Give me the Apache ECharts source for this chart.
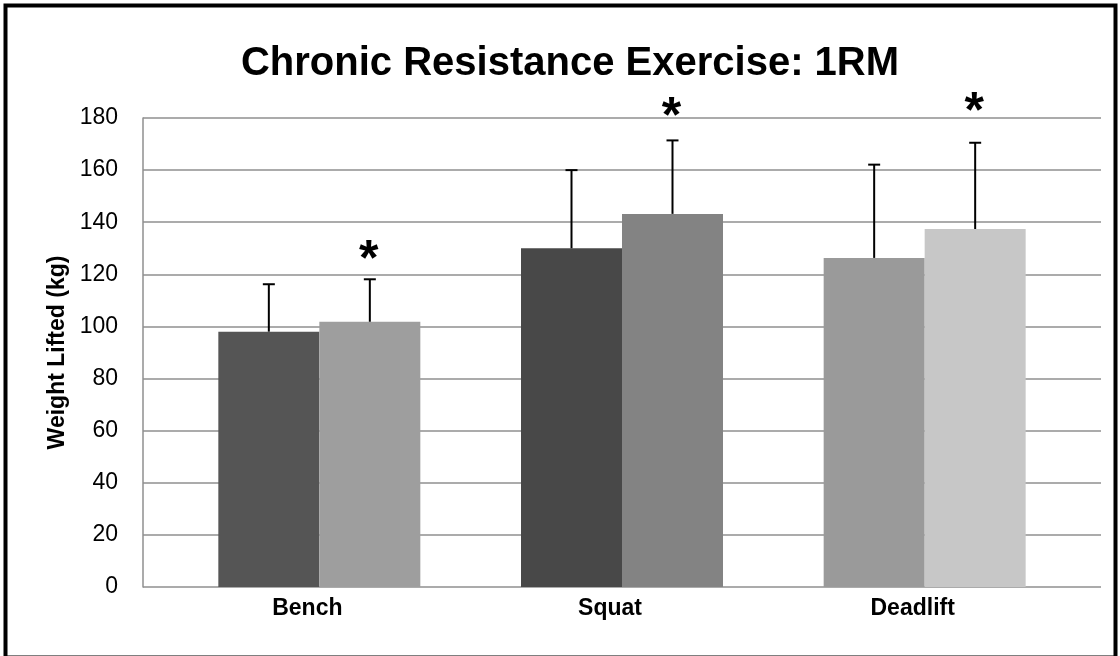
<!DOCTYPE html>
<html>
<head>
<meta charset="utf-8">
<title>Chronic Resistance Exercise: 1RM</title>
<script src="https://cdn.jsdelivr.net/npm/echarts@6/dist/echarts.min.js"></script>
<style>
  html, body { margin: 0; padding: 0; background: #fff; }
  #chart { width: 1120px; height: 656px; }
</style>
</head>
<body>
<div id="chart"></div>
<script>
// data
const categories = ['Bench', 'Squat', 'Deadlift']
const preMeans = [98, 130, 126.3]
const postMeans = [101.8, 143.2, 137.4]
const preSD = [18.2, 30, 35.8]
const postSD = [16.3, 28.2, 33.1]
// level (kg) at which the significance asterisk sits above each post bar
const postStarLevel = [128.7, 183.8, 185.8]
const yMin = 0
const yMax = 180
const yStep = 20

// each group has its own pair of greys
const preColors = ['#555555', '#484848', '#9a9a9a']
const postColors = ['#9e9e9e', '#838383', '#c7c7c7']

const FONT = 'Liberation Sans, Arial, sans-serif'
const BAR_W = 101

const chart = echarts.init(document.getElementById('chart'))

function barData(values, colors) {
  return values.map((v, i) => ({ value: v, itemStyle: { color: colors[i] } }))
}

// error bar (upper only) + optional asterisk
function errorSeries(name, means, sds, offset, stars) {
  return {
    name: name,
    type: 'custom',
    xAxisIndex: 1,
    yAxisIndex: 1,
    z: 5,
    data: categories.map((c, i) => [i, means[i], sds[i], stars ? stars[i] : -1]),
    renderItem(params, api) {
      const idx = api.value(0)
      const mean = api.value(1)
      const sd = api.value(2)
      const star = api.value(3)
      const base = api.coord([idx, mean])
      const top = api.coord([idx, mean + sd])
      const x = base[0] + offset
      const style = { stroke: '#000', lineWidth: 2 }
      const children = [
        { type: 'line', shape: { x1: x, y1: base[1], x2: x, y2: top[1] }, style: style },
        { type: 'line', shape: { x1: x - 6, y1: top[1], x2: x + 6, y2: top[1] }, style: style }
      ]
      if (star > 0) {
        const p = api.coord([idx, star])
        children.push({
          type: 'text',
          x: x - 1,
          y: p[1] + 10,
          style: {
            text: '*',
            fill: '#000',
            font: 'bold 50px ' + FONT,
            align: 'center',
            verticalAlign: 'middle'
          }
        })
      }
      return { type: 'group', children: children }
    }
  }
}

chart.setOption({
  animation: false,
  backgroundColor: '#fff',
  title: {
    text: 'Chronic Resistance Exercise: 1RM',
    left: 565,
    textAlign: 'center',
    top: 39,
    textStyle: { fontFamily: FONT, fontSize: 40, fontWeight: 'bold', color: '#000' }
  },
  graphic: [{
    type: 'rect',
    shape: { x: 5.5, y: 5.5, width: 1110, height: 652 },
    style: { fill: null, stroke: '#000', lineWidth: 4 },
    z: 100
  }],
  grid: [
    { left: 143, right: 19, top: 118, bottom: 69 },
    { left: 168, right: 44, top: 118, bottom: 69 }
  ],
  xAxis: [
    { gridIndex: 0, type: 'category', data: categories, show: false },
    {
      gridIndex: 1,
      type: 'category',
      data: categories,
      axisLine: { show: false },
      axisTick: { show: false },
      axisLabel: {
        margin: 10,
        padding: [0, 24, 0, 0],
        fontFamily: FONT,
        fontSize: 23,
        fontWeight: 'bold',
        color: '#000'
      }
    }
  ],
  yAxis: [
    {
      gridIndex: 0,
      type: 'value',
      min: yMin,
      max: yMax,
      interval: yStep,
      name: 'Weight Lifted (kg)',
      nameLocation: 'middle',
      nameGap: 71,
      nameTextStyle: { fontFamily: FONT, fontSize: 23, fontWeight: 'bold', color: '#000' },
      axisLine: { show: true, lineStyle: { color: '#8f8f8f', width: 1.5 } },
      axisTick: { show: false },
      axisLabel: { margin: 25, fontFamily: FONT, fontSize: 23, color: '#000' },
      splitLine: { show: true, lineStyle: { color: '#8f8f8f', width: 1.5 } }
    },
    { gridIndex: 1, type: 'value', min: yMin, max: yMax, interval: yStep, show: false }
  ],
  series: [
    {
      name: 'Pre',
      type: 'bar',
      xAxisIndex: 1,
      yAxisIndex: 1,
      barWidth: BAR_W,
      barGap: '0%',
      data: barData(preMeans, preColors)
    },
    {
      name: 'Post',
      type: 'bar',
      xAxisIndex: 1,
      yAxisIndex: 1,
      barWidth: BAR_W,
      barGap: '0%',
      data: barData(postMeans, postColors)
    },
    errorSeries('Pre SD', preMeans, preSD, -BAR_W / 2, null),
    errorSeries('Post SD', postMeans, postSD, BAR_W / 2, postStarLevel)
  ]
})
</script>
</body>
</html>
